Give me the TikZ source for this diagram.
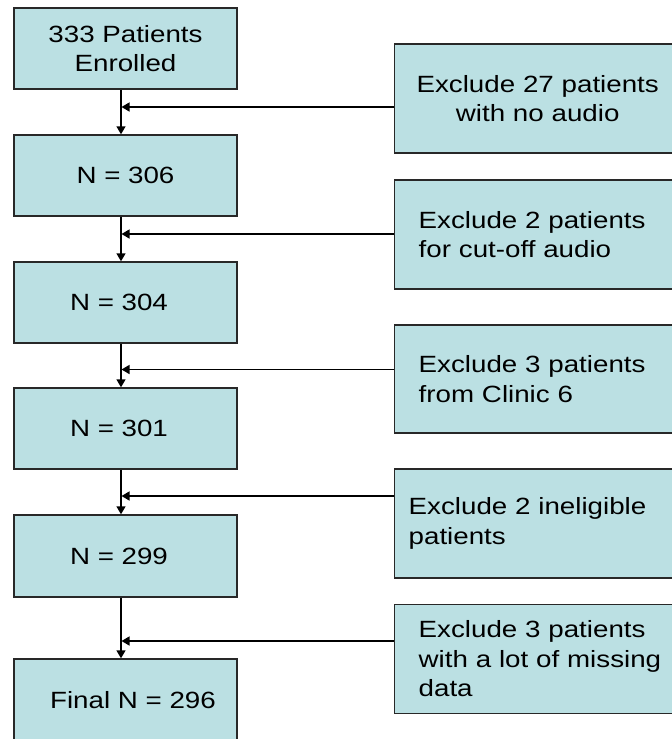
\documentclass[tikz,border=0pt]{standalone}
\usepackage{fontspec}
\setmainfont{Liberation Sans}[FakeStretch=1.18]
\usetikzlibrary{arrows.meta}
\definecolor{boxfill}{RGB}{187,224,227}
\definecolor{boxline}{RGB}{40,40,40}
\begin{document}
\begin{tikzpicture}[x=1pt,y=-1pt,
  every node/.style={font=\fontsize{23.5}{29.5}\selectfont},
  stagebox/.style={draw=boxline, fill=boxfill, line width=1.4pt, minimum width=223pt, minimum height=81pt, inner sep=0pt, align=center},
  exclbox/.style={draw=boxline, fill=boxfill, line width=1.4pt, minimum height=109pt, inner ysep=0pt, inner xsep=24pt, text width=250pt, align=left, anchor=west},
  flow/.style={line width=1.4pt, -{Triangle[length=8pt,width=9pt]}}]
\useasboundingbox (0,0) rectangle (672,739);
\clip (0,0) rectangle (672,739);
% stage boxes
\node[stagebox] (b1) at (125.5,48.5) {333 Patients\\Enrolled};
\node[stagebox] (b2) at (125.5,175.5) {N = 306};
\node[stagebox] (b3) at (125.5,302.5) {\hspace*{-13pt}N = 304};
\node[stagebox] (b4) at (125.5,428.5) {\hspace*{-13pt}N = 301};
\node[stagebox, minimum height=82pt] (b5) at (125.5,556) {\hspace*{-13pt}N = 299};
\node[stagebox, minimum height=82pt] (b6) at (125.5,700) {\hspace*{15pt}Final N = 296};
% exclusion boxes
\node[exclbox, inner xsep=18pt, align=center] (r1) at (394,98.5) {Exclude 27 patients\\with no audio};
\node[exclbox] (r2) at (394,234.5) {Exclude 2 patients\\for cut-off audio};
\node[exclbox, minimum height=108pt] (r3) at (394,379) {Exclude 3 patients\\from Clinic 6};
\node[exclbox, inner xsep=14pt] (r4) at (394,523.5) {Exclude 2 ineligible\\patients};
\node[exclbox] (r5) at (394,659) {Exclude 3 patients\\with a lot of missing\\data};
% junctions
\coordinate (ax) at (121,0);
\coordinate (j1) at (121.5,107);
\coordinate (j2) at (121.5,234);
\coordinate (j3) at (121.5,369.5);
\coordinate (j4) at (121.5,496);
\coordinate (j5) at (121.5,641);
% main flow
\draw[flow] (b1.south -| ax) -- (b2.north -| ax);
\draw[flow] (b2.south -| ax) -- (b3.north -| ax);
\draw[flow] (b3.south -| ax) -- (b4.north -| ax);
\draw[flow] (b4.south -| ax) -- (b5.north -| ax);
\draw[flow] (b5.south -| ax) -- (b6.north -| ax);
% exclusions
\draw[flow] (r1.west |- j1) -- (j1);
\draw[flow] (r2.west |- j2) -- (j2);
\draw[flow] (r3.west |- j3) -- (j3);
\draw[flow] (r4.west |- j4) -- (j4);
\draw[flow] (r5.west |- j5) -- (j5);
\end{tikzpicture}
\end{document}
